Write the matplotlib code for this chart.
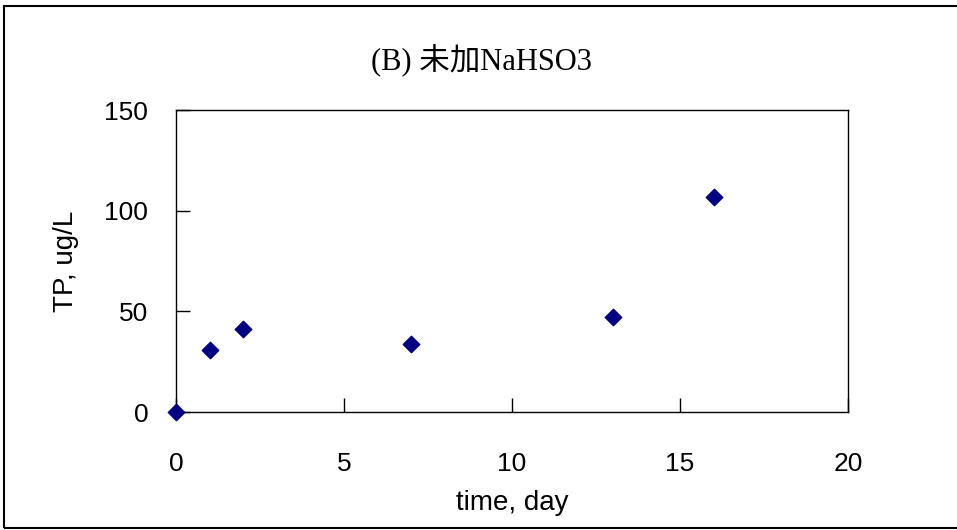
import matplotlib
matplotlib.use('Agg')
import matplotlib.pyplot as plt
from matplotlib.patches import Rectangle

# data
days = [0, 1, 2, 7, 13, 16]
tp = [0, 31, 41, 34, 47, 107]
x_ticks = [0, 5, 10, 15, 20]
y_ticks = [0, 50, 100, 150]

W, H = 957, 530
fig = plt.figure(figsize=(W / 100, H / 100), dpi=100)
ax = fig.add_axes([176 / W, 1 - 412 / H, (848 - 176) / W, (412 - 110) / H])

ax.scatter(days, tp, marker='D', s=70, color='#000080', zorder=3, clip_on=False)

ax.set_xlim(0, 20)
ax.set_ylim(0, 150)
ax.set_xticks(x_ticks)
ax.set_yticks(y_ticks)
ax.tick_params(direction='in', length=10, width=1, labelsize=19,
               labelfontfamily='Liberation Sans')
ax.tick_params(axis='x', pad=29)
ax.tick_params(axis='y', pad=20)
for sp in ax.spines.values():
    sp.set_linewidth(1)

ax.set_xlabel('time, day', fontsize=20, family='Liberation Sans', labelpad=10)
ax.set_ylabel('TP, ug/L', fontsize=20, family='Liberation Sans', labelpad=18)

fig.text(481 / W, 1 - 60 / H, '(B) 未加NaHSO3', ha='center', va='center',
         fontsize=22, family=['Liberation Serif', 'Noto Sans CJK SC'])

# outer chart border
fig.add_artist(Rectangle((4 / W, 1 - 528 / H), 1.0, (528 - 6) / H,
                         transform=fig.transFigure, fill=False,
                         edgecolor='black', linewidth=1.5))

fig.savefig('out.png', dpi=100)
